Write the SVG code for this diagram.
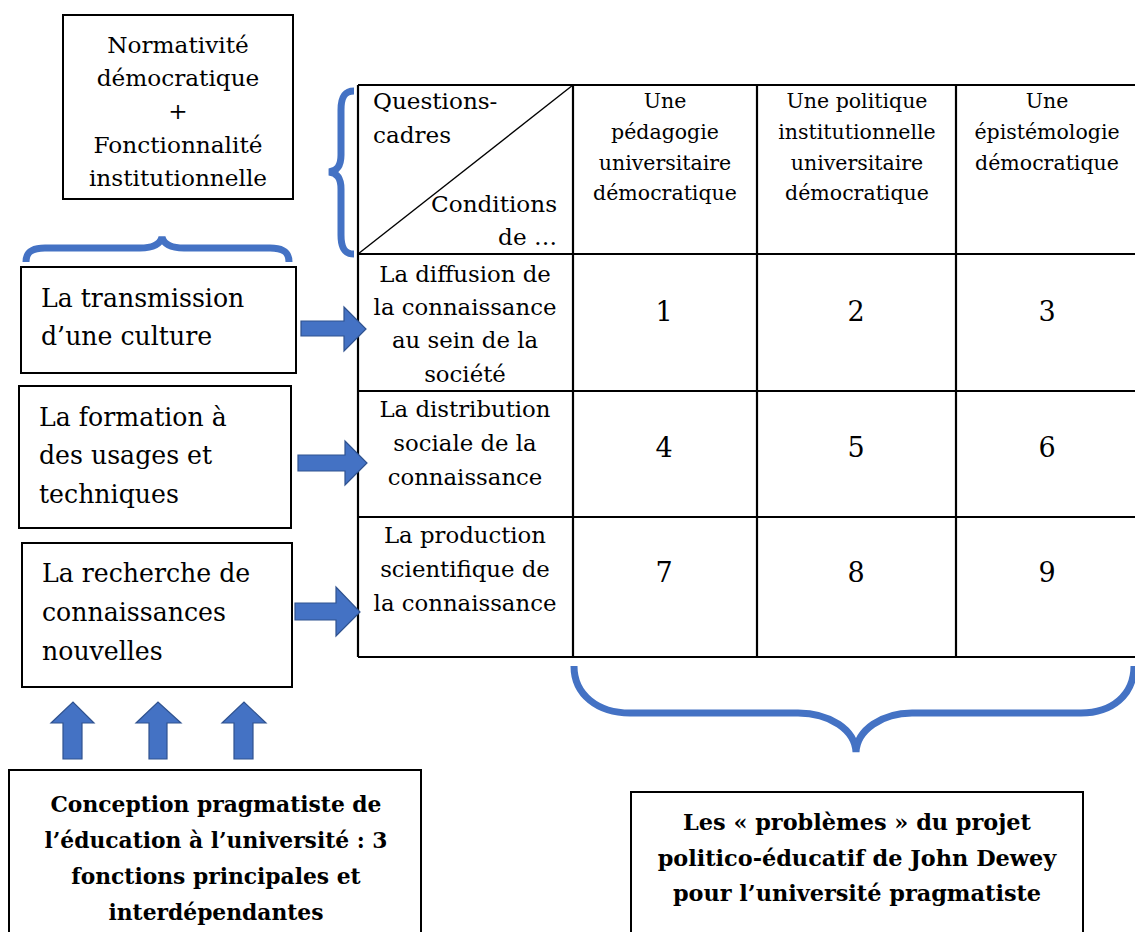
<svg xmlns="http://www.w3.org/2000/svg" width="1135" height="932" viewBox="0 0 1135 932">
<style>
text{font-family:'DejaVu Serif','Liberation Serif',serif;fill:#000}
.box{fill:#fff;stroke:#000;stroke-width:2}
.grid{stroke:#000;stroke-width:2.2;fill:none}
.brace{fill:none;stroke:#4472C4;stroke-width:7;stroke-linecap:butt}
.arr{fill:#4472C4;stroke:#2F528F;stroke-width:1.2}
.c{text-anchor:middle}
.b{font-weight:bold}
</style>
<rect width="1135" height="932" fill="#fff"/>

<g id="top-box">
<rect class="box" x="63" y="15" width="230" height="184"/>
<text class="c" font-size="23.2" x="178"><tspan x="178" y="53">Normativité</tspan><tspan x="178" y="86">démocratique</tspan><tspan x="178" y="119">+</tspan><tspan x="178" y="153">Fonctionnalité</tspan><tspan x="178" y="186">institutionnelle</tspan></text>
</g>

<g id="braces">
<path class="brace" d="M26 262 C26 252 32 248 45 248 L140 248 C152 248 160 245 162 237 C164 245 172 248 184 248 L270 248 C283 248 289 252 289 262"/>
<path class="brace" d="M354 91 C344 91 341 98 341 110 L341 155 C341 166 337 171 329 172 C337 173 341 178 341 189 L341 235 C341 247 344 254 354 254"/>
<path class="brace" d="M574 666 C574 695 598 713 630 713 L798 713 C830 713 855 730 856 752 C857 730 882 713 912 713 L1081 713 C1112 713 1134 695 1134 666"/>
</g>

<g id="table">
<path class="grid" d="M358 85 H1135 M358 254 H1135 M358 391 H1135 M358 517 H1135 M358 657 H1135 M358 85 V657 M573 85 V657 M757 85 V657 M956 85 V657"/>
<line x1="358" y1="254" x2="573" y2="85" stroke="#000" stroke-width="1.4"/>
<text font-size="23.1"><tspan x="373" y="109">Questions-</tspan><tspan x="373" y="143">cadres</tspan></text>
<text font-size="23.1" text-anchor="end"><tspan x="557" y="212">Conditions</tspan><tspan x="557" y="245">de …</tspan></text>
<text class="c" font-size="20.5"><tspan x="665" y="108">Une</tspan><tspan x="665" y="139">pédagogie</tspan><tspan x="665" y="170">universitaire</tspan><tspan x="665" y="200">démocratique</tspan></text>
<text class="c" font-size="20.5"><tspan x="857" y="108">Une politique</tspan><tspan x="857" y="139">institutionnelle</tspan><tspan x="857" y="170">universitaire</tspan><tspan x="857" y="200">démocratique</tspan></text>
<text class="c" font-size="20.5"><tspan x="1047" y="108">Une</tspan><tspan x="1047" y="139">épistémologie</tspan><tspan x="1047" y="170">démocratique</tspan></text>
<text class="c" font-size="22.8"><tspan x="465" y="282">La diffusion de</tspan><tspan x="465" y="315">la connaissance</tspan><tspan x="465" y="348">au sein de la</tspan><tspan x="465" y="382">société</tspan></text>
<text class="c" font-size="22.8"><tspan x="465" y="417">La distribution</tspan><tspan x="465" y="451">sociale de la</tspan><tspan x="465" y="485">connaissance</tspan></text>
<text class="c" font-size="22.8"><tspan x="465" y="543">La production</tspan><tspan x="465" y="577">scientifique de</tspan><tspan x="465" y="611">la connaissance</tspan></text>
<text class="c" font-size="27"><tspan x="664" y="321">1</tspan><tspan x="856" y="321">2</tspan><tspan x="1047" y="321">3</tspan><tspan x="664" y="457">4</tspan><tspan x="856" y="457">5</tspan><tspan x="1047" y="457">6</tspan><tspan x="664" y="582">7</tspan><tspan x="856" y="582">8</tspan><tspan x="1047" y="582">9</tspan></text>
</g>

<g id="box-transmission">
<rect class="box" x="21" y="267" width="275" height="106"/>
<text font-size="25.2"><tspan x="41" y="307">La transmission</tspan><tspan x="41" y="345">d’une culture</tspan></text>
</g>
<g id="box-formation">
<rect class="box" x="19" y="386" width="272" height="142"/>
<text font-size="25.2"><tspan x="39" y="426">La formation à</tspan><tspan x="39" y="464">des usages et</tspan><tspan x="39" y="503">techniques</tspan></text>
</g>
<g id="box-recherche">
<rect class="box" x="22" y="543" width="270" height="144"/>
<text font-size="25.2"><tspan x="42" y="582">La recherche de</tspan><tspan x="42" y="621">connaissances</tspan><tspan x="42" y="660">nouvelles</tspan></text>
</g>

<g id="connectors">
<path class="arr" d="M301 321 H344 V307 L366 329 L344 351 V336 H301 Z"/>
<path class="arr" d="M298 455 H345 V441 L367 463 L345 485 V471 H298 Z"/>
<path class="arr" d="M295 603 H336 V587 L360 612 L336 636 V620 H295 Z"/>
<path class="arr" d="M63 759 V723 H51 L73 702 L94 723 H82 V759 Z"/>
<path class="arr" d="M149 759 V723 H136 L158 702 L181 723 H167 V759 Z"/>
<path class="arr" d="M234 759 V723 H222 L244 702 L266 723 H253 V759 Z"/>
</g>

<g id="box-conception">
<rect class="box" x="9" y="770" width="412" height="175"/>
<text class="c b" font-size="21.8"><tspan x="216" y="812">Conception pragmatiste de</tspan><tspan x="216" y="848">l’éducation à l’université : 3</tspan><tspan x="216" y="884">fonctions principales et</tspan><tspan x="216" y="920">interdépendantes</tspan></text>
</g>

<g id="box-problemes">
<rect class="box" x="631" y="792" width="452" height="155"/>
<text class="c b" font-size="22.4"><tspan x="857" y="830">Les « problèmes » du projet</tspan><tspan x="857" y="866">politico-éducatif de John Dewey</tspan><tspan x="857" y="901">pour l’université pragmatiste</tspan></text>
</g>
</svg>
